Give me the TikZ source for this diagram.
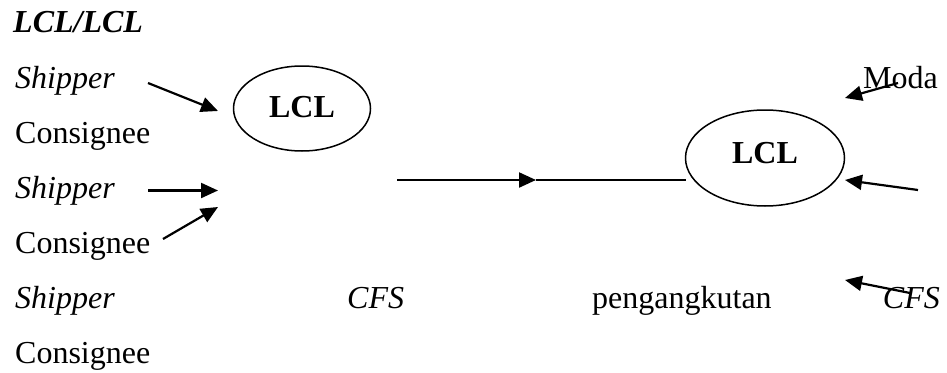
\documentclass[tikz,border=0pt]{standalone}
\usepackage{fontspec}
\setmainfont{Liberation Serif}
\usetikzlibrary{arrows.meta,shapes.geometric}
\begin{document}
\begin{tikzpicture}[x=1pt,y=-1pt,
  lbl/.style={inner sep=0pt,anchor=base west,font=\fontsize{32}{32}\selectfont},
  rlbl/.style={inner sep=0pt,anchor=base east,font=\fontsize{32}{32}\selectfont},
  oval/.style={draw,ellipse,line width=1.5pt,inner sep=0pt},
  arr/.style={line width=2.2pt,-{Triangle[length=17pt,width=15pt]}},
  plain/.style={line width=2.2pt}]
\useasboundingbox (0,0) rectangle (947,372);
% left column texts
\node[lbl,font=\fontsize{32}{32}\selectfont\bfseries\itshape] (title) at (13,32) {LCL/LCL};
\node[lbl,font=\fontsize{32}{32}\selectfont\itshape] (sh1) at (15,88) {Shipper};
\node[lbl] (co1) at (15,143) {Consignee};
\node[lbl,font=\fontsize{32}{32}\selectfont\itshape] (sh2) at (15,198) {Shipper};
\node[lbl] (co2) at (15,253) {Consignee};
\node[lbl,font=\fontsize{32}{32}\selectfont\itshape] (sh3) at (15,308) {Shipper};
\node[lbl] (co3) at (15,363) {Consignee};
% other texts
\node[lbl,font=\fontsize{32}{32}\selectfont\itshape] (cfs1) at (347,308) {CFS};
\node[lbl] (peng) at (592,308) {pengangkutan};
\node[rlbl,font=\fontsize{32}{32}\selectfont\itshape] (cfs2) at (940,308) {CFS};
\node[rlbl] (moda) at (938,88) {Moda};
% ellipses
\node[oval,minimum width=137pt,minimum height=85pt] (e1) at (302,108.5) {};
\node[inner sep=0pt,anchor=base,font=\fontsize{32}{32}\selectfont\bfseries] (t1) at (302,117) {LCL};
\node[oval,minimum width=159pt,minimum height=96pt] (e2) at (765,158) {};
\node[inner sep=0pt,anchor=base,font=\fontsize{32}{32}\selectfont\bfseries] (t2) at (765,163) {LCL};
% arrow end points
\coordinate (a1s) at (148,83);  \coordinate (a1e) at (218,111);
\coordinate (a2s) at (148,190.5); \coordinate (a2e) at (218,190.5);
\coordinate (a3s) at (163,239); \coordinate (a3e) at (218,207);
\coordinate (h1) at (397,180); \coordinate (hm) at (536,180); \coordinate (h2) at (686,180);
\coordinate (m1) at (898,83); \coordinate (m2) at (845,98);
\coordinate (r1) at (918,190); \coordinate (r2) at (845,180);
\coordinate (c1) at (910,293); \coordinate (c2) at (845,280);
% arrows
\draw[arr] (a1s) -- (a1e);
\draw[arr] (a2s) -- (a2e);
\draw[arr] (a3s) -- (a3e);
\draw[arr] (h1) -- (hm);
\draw[plain] (hm) -- (h2);
\draw[arr] (m1) -- (m2);
\draw[arr] (r1) -- (r2);
\draw[arr] (c1) -- (c2);
\end{tikzpicture}
\end{document}
